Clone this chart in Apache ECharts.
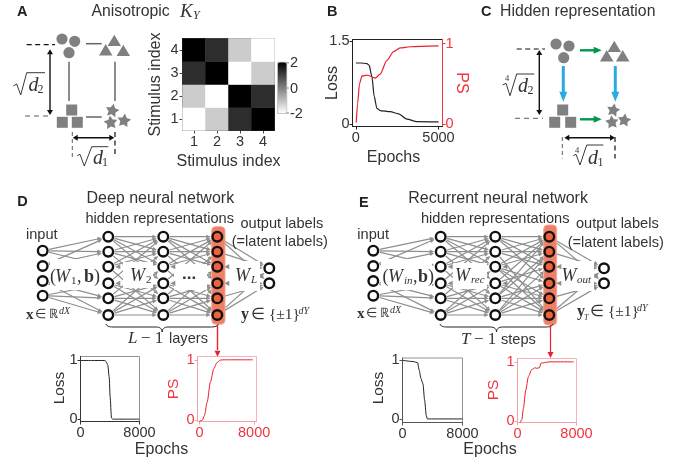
<!DOCTYPE html>
<html><head><meta charset="utf-8">
<style>html,body{margin:0;padding:0;background:#fff}#c{width:696px;height:466px}</style>
<script src="https://cdn.jsdelivr.net/npm/echarts@6/dist/echarts.min.js"></script>
</head><body><div id="c"></div>
<script>
// ---------- data ----------
const stimulusCats = ['1','2','3','4'];
const kernelRow1 = [-2,-1.2,1.3,2];
const kernelRow2 = [-1.2,-2,2,1.3];
const kernelRow3 = [1.3,2,-2,-1.2];
const kernelRow4 = [2,1.3,-1.2,-2];

const bLossEpochs = [0,300,665,800,970,1110,1270,1470,2080,2580,3085,3690,5000];
const bLoss       = [1.10,1.10,1.09,1.06,0.85,0.49,0.28,0.24,0.22,0.18,0.085,0.04,0.035];
const bPsEpochs   = [20,100,220,360,665,1170,1470,1875,2280,2680,3290,5000];
const bPs         = [0.016,0.25,0.50,0.595,0.607,0.57,0.62,0.79,0.90,0.946,0.96,0.97];

const dLossEpochs = [0,1500,3300,3480,3700,3890,4020,4200,4380,8000];
const dLoss       = [1.0,1.0,1.0,0.98,0.92,0.72,0.375,0.02,0,0];
const dPsEpochs   = [0,388,727,1115,1600,2085,2570,3055,3600,7800];
const dPs         = [-0.02,-0.01,0.07,0.29,0.63,0.85,0.955,0.995,1,1];

const eLossEpochs = [0,1430,2010,2235,2460,2725,2950,3170,3310,8000];
const eLoss       = [1.0,0.98,0.96,0.83,0.69,0.60,0.32,0.06,0,0];
const ePsEpochs   = [360,580,800,1120,1480,1925,2370,2600,2950,3220,4380,6200,7640];
const ePs         = [-0.03,0.017,0.21,0.52,0.75,0.87,0.90,0.89,0.90,0.98,1.0,1.0,1.0];

const zip = (a,b)=>a.map((v,i)=>[v,b[i]]);
const heat = [];
[kernelRow1,kernelRow2,kernelRow3,kernelRow4].forEach((r,y)=>r.forEach((v,x)=>heat.push([x,y,v])));

// ---------- diagram helpers ----------
const SANS='"Liberation Sans"', SERIF='"Liberation Serif"';
const INK='#333', GREY='#808080', EDGE='#8e8e8e', RED='#e9202c', PSRED='#f03440';
const G=[];
const tx=(x,y,text,o={})=>G.push({type:'text',x,y,rotation:o.rot||0,silent:true,style:{text,fill:o.c||INK,
  font:`${o.st||''} ${o.w||''} ${o.s||16}px ${o.f||SANS}`,align:o.a||'left',verticalAlign:'middle'}});
const ln=(x1,y1,x2,y2,c,w,dash)=>G.push({type:'line',silent:true,shape:{x1,y1,x2,y2},style:{stroke:c,lineWidth:w,lineDash:dash||null}});
const poly=(pts,c)=>G.push({type:'polygon',silent:true,shape:{points:pts},style:{fill:c}});
const head=(x,y,ang,L,W,c)=>{const ca=Math.cos(ang),sa=Math.sin(ang);
  poly([[x,y],[x-L*ca+W*sa,y-L*sa-W*ca],[x-L*ca-W*sa,y-L*sa+W*ca]],c);};
const arrow=(x1,y1,x2,y2,c,w,L,W)=>{const a=Math.atan2(y2-y1,x2-x1);
  ln(x1,y1,x2-Math.cos(a)*L*0.7,y2-Math.sin(a)*L*0.7,c,w);head(x2,y2,a,L,W,c);};
const dbl=(x1,y1,x2,y2,c,w)=>{const a=Math.atan2(y2-y1,x2-x1);
  ln(x1+Math.cos(a)*3,y1+Math.sin(a)*3,x2-Math.cos(a)*3,y2-Math.sin(a)*3,c,w);head(x2,y2,a,5,3,c);head(x1,y1,a+Math.PI,5,3,c);};
const circ=(cx,cy,r,fill,stroke,w)=>G.push({type:'circle',silent:true,shape:{cx,cy,r},style:{fill,stroke:stroke||null,lineWidth:w||0}});
const sq=(cx,cy,a)=>G.push({type:'rect',silent:true,shape:{x:cx-a/2,y:cy-a/2,width:a,height:a},style:{fill:GREY}});
const tri=(cx,cy,a)=>poly([[cx,cy-a*0.5],[cx+a*0.56,cy+a*0.45],[cx-a*0.56,cy+a*0.45]],GREY);
const star=(cx,cy,R,rot)=>{const p=[];for(let i=0;i<10;i++){const r=i%2?R*0.52:R,t=-Math.PI/2+(rot||0)+i*Math.PI/5;
  p.push([cx+r*Math.cos(t),cy+r*Math.sin(t)]);}poly(p,GREY);};
const pl=(pts,c,w)=>G.push({type:'polyline',silent:true,shape:{points:pts},style:{stroke:c,lineWidth:w,fill:null}});
const whiteBox=(x,y,w,h)=>G.push({type:'rect',silent:true,shape:{x,y,width:w,height:h},style:{fill:'#fff'}});
const bez=(x1,y1,cpx1,cpy1,cpx2,cpy2,x2,y2)=>G.push({type:'bezierCurve',silent:true,shape:{x1,y1,cpx1,cpy1,cpx2,cpy2,x2,y2},style:{stroke:'#222',lineWidth:1,fill:null}});
const brace=(x0,x1,y)=>{const m=(x0+x1)/2;
  bez(x0,y,x0+1,y+3,x0+5,y+3,x0+8,y+3);ln(x0+8,y+3,m-6,y+3,'#222',1);bez(m-6,y+3,m-2,y+3,m,y+5,m,y+8);
  bez(m,y+8,m,y+5,m+2,y+3,m+6,y+3);ln(m+6,y+3,x1-8,y+3,'#222',1);bez(x1-8,y+3,x1-5,y+3,x1-1,y+3,x1,y);};
const shapes=(c,t,s,st,R)=>{c.forEach(p=>circ(p[0],p[1],5.6,GREY));t.forEach(p=>tri(p[0],p[1],12));s.forEach(p=>sq(p[0],p[1],11));
  st.forEach((p,i)=>star(p[0],p[1],R,[0.2,-0.1,0.15][i]));};

// ---------- Panel A ----------
tx(17,12,'A',{w:'bold',s:14.5,c:'#222'});
tx(91.5,12,'Anisotropic',{s:15.8});
tx(180,12,'K',{st:'italic',s:19,f:SERIF});
tx(193,16,'Y',{st:'italic',s:12,f:SERIF});
shapes([[62,39],[74.7,41.3],[69,52.7]],[[114.3,40.7],[105.7,50],[123.3,50.7]],[[71.7,110],[62.3,122.3],[77.3,122.3]],[[112.3,110.7],[110.7,122.7],[124,120.7]],7.2);
const wire='#666';
ln(86,43.7,101.7,43.7,wire,1.5);ln(86,117,101.7,117,wire,1.5);ln(69,61.7,69,101,wire,1.5);ln(115,61.7,115,101,wire,1.5);
ln(26.7,44.7,55,44.7,'#111',1.2,[5,3.5]);ln(25,116,50,116,'#333',0.8,[5,4]);
dbl(50,49.3,50,115,'#111',1.4);dbl(72.7,137.7,114.3,137.7,'#111',1.4);
ln(72.3,132,72.3,157,'#333',0.8,[4,3]);ln(115,132,115,157,'#111',1.2,[5,3.5]);
pl([[13.3,86],[16.7,84],[20.7,95],[26.7,72.7],[45,72.7]],'#222',0.9);
tx(28.5,85.5,'d',{st:'italic',s:20,f:SERIF});tx(37.5,89.5,'2',{s:12,f:SERIF});
pl([[77.3,155.7],[80,154.3],[84.3,166],[91.7,146.7],[108.3,146.7]],'#222',0.9);
tx(93,159,'d',{st:'italic',s:20,f:SERIF});tx(102,163,'1',{s:12,f:SERIF});

// ---------- Panel B / C titles ----------
tx(327,12,'B',{w:'bold',s:14.5,c:'#222'});
tx(481,12,'C',{w:'bold',s:14.5,c:'#222'});
tx(500,12,'Hidden representation',{s:15.8});
tx(332.5,83,'Loss',{rot:Math.PI/2,s:16,a:'center'});
tx(461.5,83,'PS',{rot:-Math.PI/2,s:16,a:'center',c:PSRED});
tx(393.5,157.5,'Epochs',{s:16,a:'center'});

// ---------- Panel C ----------
shapes([[556,44],[569,46],[563.7,57.7]],[[614.3,46.7],[606.7,56],[622.7,56]],[[562.7,110],[554.7,122.3],[570.7,122.3]],[[613.3,110.3],[612,122.3],[624.3,120.3]],7);
const GREEN='#00984a',BLUE='#29abe2';
arrow(580,50.3,601.7,50.3,GREEN,2.4,8,3.5);arrow(580,119.3,601.7,119.3,GREEN,2.4,8,3.5);
arrow(563.3,66,563.3,101.7,BLUE,3,10,4);arrow(615.3,66,615.3,101.7,BLUE,3,10,4);
ln(516.7,49,545,49,'#111',1.2,[5,3.5]);ln(515,118.3,543,118.3,'#333',0.8,[5,4]);
dbl(539.3,50,539.3,115,'#111',1.4);dbl(564.3,137.7,615,137.7,'#111',1.4);
ln(562.3,137,562.3,158.5,'#333',0.8,[4,3]);ln(615,137,615,158.5,'#111',1.2,[5,3.5]);
pl([[502.7,85],[506,83.3],[510,95.7],[516.7,74],[534.3,74]],'#222',0.9);
tx(505,79,'4',{s:8.5,f:SERIF});tx(518,86.5,'d',{st:'italic',s:20,f:SERIF});tx(527.5,91,'2',{s:12,f:SERIF});
pl([[573.3,155.7],[576,154.3],[580,165],[586.7,145],[603.3,145]],'#222',0.9);
tx(575,150.5,'4',{s:8.5,f:SERIF});tx(588,158.5,'d',{st:'italic',s:20,f:SERIF});tx(597.5,163,'1',{s:12,f:SERIF});

// ---------- Networks ----------
const inY=[250.7,266,281,295.7], hidY=[236.7,251.7,266.7,283.3,298.3,315], outY=[268.3,283.3];
const inEdges=[[0,0],[0,1],[0,2],[1,0],[1,1],[2,4],[2,5],[3,3],[3,4],[3,5]];
const hidEdges=[[0,0],[0,1],[0,2],[0,3],[1,0],[1,1],[1,2],[2,0],[2,1],[3,0],[5,5],[5,4],[5,3],[5,2],[4,5],[4,4],[4,3],[3,5],[3,4],[2,5],[1,4],[4,1]];
const hidEdgesE=[[0,0],[0,1],[0,2],[0,3],[1,0],[1,1],[1,2],[1,5],[2,0],[2,1],[2,3],[2,5],[3,0],[3,2],[3,5],[5,5],[5,4],[5,3],[5,2],[4,5],[4,4],[4,3],[4,1],[3,4],[2,4],[5,1],[4,0]];
const outEdges=[[0,0],[1,0],[2,0],[5,0],[3,1],[4,1],[5,1],[0,1]];
function network(xs,boxes,hl,lastEdges){
  const ed=(x1,y1,x2,y2)=>{const a=Math.atan2(y2-y1,x2-x1),d=6.5;
    arrow(x1+Math.cos(a)*d,y1+Math.sin(a)*d,x2-Math.cos(a)*d,y2-Math.sin(a)*d,EDGE,1.2,4.5,2);};
  inEdges.forEach(e=>ed(xs[0],inY[e[0]],xs[1],hidY[e[1]]));
  hidEdges.forEach(e=>ed(xs[1],hidY[e[0]],xs[2],hidY[e[1]]));
  lastEdges.forEach(e=>ed(xs[2],hidY[e[0]],xs[3],hidY[e[1]]));
  outEdges.forEach(e=>ed(xs[3],hidY[e[0]],xs[4],outY[e[1]]));
  boxes.forEach(b=>whiteBox(b[0],b[1],b[2],b[3]));
  [1,2,3].forEach(l=>[2,3].forEach(i=>head(xs[l]+7,hidY[i],Math.PI,5,2.6,EDGE)));
  G.push({type:'rect',silent:true,shape:{x:hl[0],y:hl[1],width:hl[2],height:hl[3],r:4},style:{fill:'#ef7f66',stroke:'#f5a995',lineWidth:1}});
  inY.forEach(y=>circ(xs[0],y,4.8,'#fff','#111',2.4));
  [1,2].forEach(l=>hidY.forEach(y=>circ(xs[l],y,4.8,'#fff','#111',2.4)));
  hidY.forEach(y=>circ(xs[3],y,4.8,'#f0623c','#111',2.4));
  outY.forEach(y=>circ(xs[4],y,4.8,'#fff','#111',2.4));
}
// D
network([42.7,108.3,163.3,217.3,269.3],[[50,259,51,31],[123,262,30,26],[174,264,33,26],[227,261,33,30]],[211.7,226.7,13.3,97.5],hidEdges);
tx(17.3,202,'D',{w:'bold',s:14.5,c:'#222'});
tx(86.5,198.5,'Deep neural network',{s:16});
tx(85.5,219,'hidden representations',{s:14.6});
tx(240.5,224.3,'output labels',{s:14.6});
tx(231.7,242,'(=latent labels)',{s:14.6});
tx(26,235,'input',{s:14.6});
tx(50,277,'(',{s:18,f:SERIF});tx(55,277,'W',{st:'italic',s:18,f:SERIF});tx(71,281,'1',{s:11,f:SERIF});tx(77,277,',',{s:18,f:SERIF});tx(84,277,'b',{w:'bold',s:18,f:SERIF});tx(94,277,')',{s:18,f:SERIF});
tx(130,276,'W',{st:'italic',s:18,f:SERIF});tx(146,280,'2',{s:11,f:SERIF});
tx(182,274,'...',{w:'bold',s:17});
tx(235,276,'W',{st:'italic',s:18,f:SERIF});tx(251,280,'L',{st:'italic',s:11,f:SERIF});
tx(26,315,'x',{w:'bold',s:15,f:SERIF});tx(35,315,'∈ ℝ',{s:13,f:SERIF});tx(59,311,'dX',{st:'italic',s:10,f:SERIF});
tx(241,315,'y',{w:'bold',s:16,f:SERIF});tx(251,315,'∈ {±1}',{s:15.5,f:SERIF});tx(298.5,311,'dY',{st:'italic',s:10,f:SERIF});
brace(106,218.3,324);
tx(128,339,'L',{st:'italic',s:17,f:SERIF});tx(141,339,'− 1',{s:17,f:SERIF});tx(169,339,'layers',{s:14.6});
ln(217.5,325,217.5,350,RED,1.4);head(217.5,356.8,Math.PI/2,6,3,RED);
// E
network([373.3,440.7,495.3,549.3,604],[[381,259,51,31],[453,263,34,26],[561,261,33,30]],[543.7,225,13,100],hidEdgesE);
tx(359,202.5,'E',{w:'bold',s:14.5,c:'#222'});
tx(408.3,198.5,'Recurrent neural network',{s:16});
tx(421,219,'hidden representations',{s:14.6});
tx(576,224.3,'output labels',{s:14.6});
tx(567.7,242.5,'(=latent labels)',{s:14.6});
tx(357.3,235,'input',{s:14.6});
tx(382.5,277,'(',{s:18,f:SERIF});tx(388,277,'W',{st:'italic',s:18,f:SERIF});tx(404,281,'in',{st:'italic',s:11,f:SERIF});tx(413,277,',',{s:18,f:SERIF});tx(418,277,'b',{w:'bold',s:18,f:SERIF});tx(428,277,')',{s:18,f:SERIF});
tx(455,276,'W',{st:'italic',s:18,f:SERIF});tx(471,280,'rec',{st:'italic',s:11,f:SERIF});
tx(561.5,276,'W',{st:'italic',s:18,f:SERIF});tx(577,280,'out',{st:'italic',s:11,f:SERIF});
tx(357,314,'x',{w:'bold',s:15,f:SERIF});tx(366,314,'∈ ℝ',{s:13,f:SERIF});tx(390,310,'dX',{st:'italic',s:10,f:SERIF});
tx(577,312,'y',{w:'bold',s:16,f:SERIF});tx(584,318,'T',{st:'italic',s:8,f:SERIF});tx(590,312,'∈ {±1}',{s:15.5,f:SERIF});tx(637,308,'dY',{st:'italic',s:10,f:SERIF});
brace(440,553,324);
tx(461,340,'T',{st:'italic',s:17,f:SERIF});tx(474,340,'− 1',{s:17,f:SERIF});tx(501,340,'steps',{s:14.6});
ln(550.5,325,550.5,352,RED,1.2);head(550.5,358,Math.PI/2,6,3,RED);

// ---------- shared small-plot labels ----------
tx(59.5,388,'Loss',{rot:Math.PI/2,s:15.5,a:'center'});
tx(173.5,389,'PS',{rot:Math.PI/2,s:15.5,a:'center',c:PSRED});
tx(161.5,449.5,'Epochs',{s:16,a:'center'});
tx(378.5,388,'Loss',{rot:Math.PI/2,s:15.5,a:'center'});
tx(493.5,390,'PS',{rot:Math.PI/2,s:15.5,a:'center',c:PSRED});
tx(490,449.5,'Epochs',{s:16,a:'center'});

// colorbar frame and labels
G.push({type:'rect',silent:true,shape:{x:277.7,y:62.3,width:9,height:51},style:{fill:null,stroke:'#888',lineWidth:0.6}});
[[62.8,'2'],[88,'0'],[113,'-2']].forEach(p=>{ln(286.7,p[0],289,p[0],'#555',0.7);tx(290,p[0]+0.5,p[1],{s:14.5});});

// ---------- axes ----------
const rects={
 heat:[182.5,38.5,92,92], b:[352.5,39.5,90,87],
 dl:[80.5,356.5,59,65], dp:[197.5,356.5,59,65], el:[402.5,358,60,64.5], ep:[517.5,358.5,59,64]
};
const gridOf=(r,b,bw)=>({left:r[0],top:r[1],width:r[2],height:r[3],show:true,borderColor:b,borderWidth:bw||0.8,backgroundColor:'transparent',containLabel:false});
const LF=SANS.replace(/"/g,'');
const plain=v=>String(v);
const xV=(idx,min,max,vals,c,lineC)=>({type:'value',gridIndex:idx,min,max,splitLine:{show:false},
  axisLine:{show:true,onZero:false,lineStyle:{color:lineC||c,width:1}},
  axisTick:{show:true,length:3,customValues:vals,lineStyle:{color:lineC||c,width:1}},
  axisLabel:{customValues:vals,formatter:plain,color:c,fontSize:14.5,fontFamily:LF,margin:4,hideOverlap:false}});
const yV=(idx,min,max,vals,c,lineC,pos)=>({type:'value',gridIndex:idx,min,max,position:pos||'left',splitLine:{show:false},
  axisLine:{show:true,onZero:false,lineStyle:{color:lineC||c,width:1}},
  axisTick:{show:true,length:3,customValues:vals,lineStyle:{color:lineC||c,width:1}},
  axisLabel:{customValues:vals,formatter:plain,color:c,fontSize:14.5,fontFamily:LF,margin:3,hideOverlap:false}});
const line=(xi,yi,data,color,w)=>({type:'line',xAxisIndex:xi,yAxisIndex:yi,data,showSymbol:false,silent:true,animation:false,
  smooth:0.25,smoothMonotone:'x',lineStyle:{color,width:w},clip:false});
const catAxis=(name,gap,rot)=>({type:'category',gridIndex:0,data:stimulusCats,splitLine:{show:false},
  axisLine:{show:true,lineStyle:{color:'#444',width:1}},axisTick:{show:true,length:3,alignWithLabel:true,lineStyle:{color:'#444'}},
  axisLabel:{color:INK,fontSize:14.5,fontFamily:LF,margin:4},
  name,nameLocation:'middle',nameGap:gap,nameRotate:rot,nameTextStyle:{color:INK,fontSize:16,fontFamily:LF}});

const option={
 animation:false,backgroundColor:'#fff',
 textStyle:{fontFamily:LF},
 grid:[gridOf(rects.heat,'#555'),gridOf(rects.b,'#222',1),gridOf(rects.dl,'#777'),gridOf(rects.dp,'#f7a1a5'),gridOf(rects.el,'#777'),gridOf(rects.ep,'#f7a1a5')],
 xAxis:[catAxis('Stimulus index',23),
  xV(1,-206,5242,[0,5000],INK,'#222'),
  xV(2,0,8000,[0,8000],INK,'#333'),xV(3,-290,8340,[0,8000],PSRED,'#f7a1a5'),
  xV(4,0,8000,[0,8000],INK,'#555'),xV(5,0,8000,[0,8000],PSRED,'#f7a1a5')],
 yAxis:[catAxis('Stimulus index',19,90),
  yV(1,-0.049,1.525,[0,1.5],INK,'#222'),
  yV(1,-0.033,1.05,[0,1],PSRED,PSRED,'right'),
  yV(2,-0.04,1.068,[0,1],INK,'#333'),yV(3,-0.028,1.055,[0,1],PSRED,'#f7a1a5'),
  yV(4,-0.061,1.04,[0,1],INK,'#555'),yV(5,-0.029,1.057,[0,1],PSRED,'#f7a1a5')],
 visualMap:{type:'continuous',seriesIndex:0,min:-2,max:2,show:true,left:277.7,top:62.3,itemWidth:9,itemHeight:51,text:null,
  calculable:false,hoverLink:false,padding:0,inRange:{color:['#ffffff','#000000']}},
 series:[
  {type:'heatmap',xAxisIndex:0,yAxisIndex:0,data:heat,silent:true,itemStyle:{borderWidth:0},emphasis:{disabled:true}},
  line(1,1,zip(bLossEpochs,bLoss),'#222',1.2),
  line(1,2,zip(bPsEpochs,bPs),RED,1.2),
  line(2,3,zip(dLossEpochs,dLoss),'#222',1),
  line(3,4,zip(dPsEpochs,dPs),RED,1),
  line(4,5,zip(eLossEpochs,eLoss),'#222',1),
  line(5,6,zip(ePsEpochs,ePs),RED,1)
 ],
 graphic:{elements:G}
};
const chart=echarts.init(document.getElementById('c'),null,{renderer:'canvas'});
chart.setOption(option);
</script></body></html>
